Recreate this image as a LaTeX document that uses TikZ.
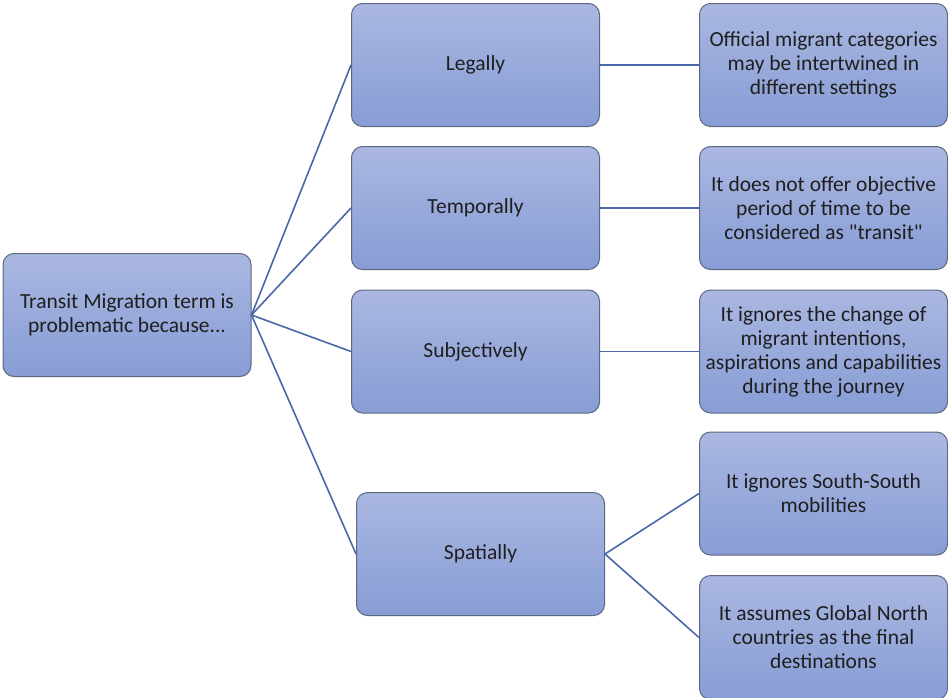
\documentclass[tikz,border=0pt]{standalone}
\usepackage{fontspec}
\setmainfont{Carlito}[Ligatures=TeXOff]
\definecolor{boxtop}{HTML}{AAB7E1}
\definecolor{boxbot}{HTML}{879DD5}
\definecolor{boxline}{HTML}{5E6780}
\definecolor{linkcol}{HTML}{4A68A8}
\begin{document}
\begin{tikzpicture}[x=1pt,y=-1pt,
  box/.style={draw=boxline, line width=1pt, rounded corners=11pt, top color=boxtop, bottom color=boxbot,
    minimum width=248pt, minimum height=123pt, align=center, text=black!88,
    font=\fontsize{21.5}{24}\selectfont, inner sep=4pt},
  link/.style={draw=linkcol, line width=1.6pt}]
\useasboundingbox (0,0) rectangle (948,697);
\node[box] (root) at (127,315) {Transit Migration term is\\problematic because...};
\node[box] (leg) at (475.5,65) {Legally};
\node[box] (tem) at (475.5,208) {Temporally};
\node[box] (sub) at (475.5,351.5) {Subjectively};
\node[box] (spa) at (480.5,554) {Spatially};
\node[box] (r1) at (823.5,65) {Official migrant categories\\may be intertwined in\\different settings};
\node[box] (r2) at (823.5,208) {It does not offer objective\\period of time to be\\considered as "transit"};
\node[box] (r3) at (823.5,351.5) {It ignores the change of\\migrant intentions,\\aspirations and capabilities\\during the journey};
\node[box] (r4) at (823.5,493.5) {It ignores South-South\\mobilities};
\node[box, minimum height=124pt] (r5) at (823.5,637.5) {It assumes Global North\\countries as the final\\destinations};
\draw[link] (root.east) -- (leg.west);
\draw[link] (root.east) -- (tem.west);
\draw[link] (root.east) -- (sub.west);
\draw[link] (root.east) -- (spa.west);
\draw[link] (leg.east) -- (r1.west);
\draw[link] (tem.east) -- (r2.west);
\draw[link] (sub.east) -- (r3.west);
\draw[link] (spa.east) -- (r4.west);
\draw[link] (spa.east) -- (r5.west);
\end{tikzpicture}
\end{document}
